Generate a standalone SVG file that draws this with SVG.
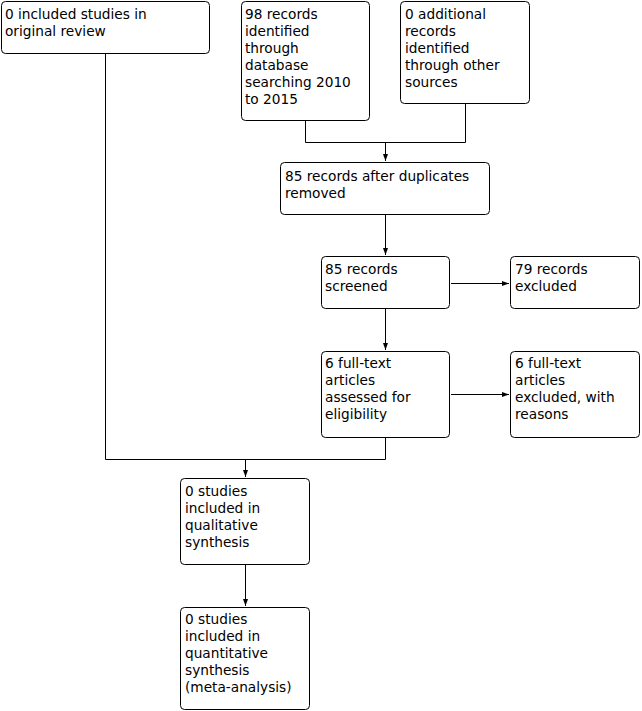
<svg xmlns="http://www.w3.org/2000/svg" width="642" height="711" viewBox="0 0 642 711">
<style>
.box{fill:#fff;stroke:#000;stroke-width:1}
.t{font-family:"DejaVu Sans",Verdana,sans-serif;font-size:13.7px;fill:#000}
.c{fill:none;stroke:#000;stroke-width:1}
</style>
<defs>
<marker id="ah" markerWidth="8" markerHeight="8" refX="7" refY="4" orient="auto" markerUnits="userSpaceOnUse">
<path d="M0,1.5 L7,4 L0,6.5 Z" fill="#000"/>
</marker>
</defs>
<rect width="642" height="711" fill="#fff"/>
<g id="connectors">
<path class="c" d="M105.5,53 V459.5 H385.5 V437"/>
<path class="c" d="M305.5,121 V142.5 H465.5 V104"/>
<path class="c" d="M385.5,142.5 V161" marker-end="url(#ah)"/>
<path class="c" d="M385.5,215 V255" marker-end="url(#ah)"/>
<path class="c" d="M385.5,309 V350" marker-end="url(#ah)"/>
<path class="c" d="M451,283.5 H509" marker-end="url(#ah)"/>
<path class="c" d="M451,394.5 H509" marker-end="url(#ah)"/>
<path class="c" d="M245.5,459.5 V477" marker-end="url(#ah)"/>
<path class="c" d="M245.5,565 V606" marker-end="url(#ah)"/>
</g>
<g id="n1"><rect class="box" x="1.5" y="1.5" width="208" height="52" rx="4"/>
<text class="t" x="5" y="19">0 included studies in</text><text class="t" x="5" y="36">original review</text></g>
<g id="n2"><rect class="box" x="241.5" y="1.5" width="128" height="119" rx="4"/>
<text class="t" x="245" y="19">98 records</text><text class="t" x="245" y="36">identified</text><text class="t" x="245" y="53">through</text><text class="t" x="245" y="70">database</text><text class="t" x="245" y="87">searching 2010</text><text class="t" x="245" y="104">to 2015</text></g>
<g id="n3"><rect class="box" x="400.5" y="1.5" width="129" height="102" rx="4"/>
<text class="t" x="405" y="19">0 additional</text><text class="t" x="405" y="36">records</text><text class="t" x="405" y="53">identified</text><text class="t" x="405" y="70">through other</text><text class="t" x="405" y="87">sources</text></g>
<g id="n4"><rect class="box" x="280.5" y="162.5" width="209" height="52" rx="4"/>
<text class="t" x="285" y="181">85 records after duplicates</text><text class="t" x="285" y="198">removed</text></g>
<g id="n5"><rect class="box" x="321.5" y="256.5" width="128" height="52" rx="4"/>
<text class="t" x="325" y="274">85 records</text><text class="t" x="325" y="291">screened</text></g>
<g id="n6"><rect class="box" x="510.5" y="256.5" width="129" height="52" rx="4"/>
<text class="t" x="515" y="274">79 records</text><text class="t" x="515" y="291">excluded</text></g>
<g id="n7"><rect class="box" x="321.5" y="351.5" width="128" height="86" rx="4"/>
<text class="t" x="325" y="368">6 full-text</text><text class="t" x="325" y="385">articles</text><text class="t" x="325" y="402">assessed for</text><text class="t" x="325" y="419">eligibility</text></g>
<g id="n8"><rect class="box" x="510.5" y="351.5" width="129" height="86" rx="4"/>
<text class="t" x="515" y="368">6 full-text</text><text class="t" x="515" y="385">articles</text><text class="t" x="515" y="402">excluded, with</text><text class="t" x="515" y="419">reasons</text></g>
<g id="n9"><rect class="box" x="180.5" y="478.5" width="129" height="86" rx="4"/>
<text class="t" x="185" y="496">0 studies</text><text class="t" x="185" y="513">included in</text><text class="t" x="185" y="530">qualitative</text><text class="t" x="185" y="547">synthesis</text></g>
<g id="n10"><rect class="box" x="180.5" y="607.5" width="129" height="102" rx="4"/>
<text class="t" x="185" y="624">0 studies</text><text class="t" x="185" y="641">included in</text><text class="t" x="185" y="658">quantitative</text><text class="t" x="185" y="675">synthesis</text><text class="t" x="185" y="692">(meta-analysis)</text></g>
</svg>
